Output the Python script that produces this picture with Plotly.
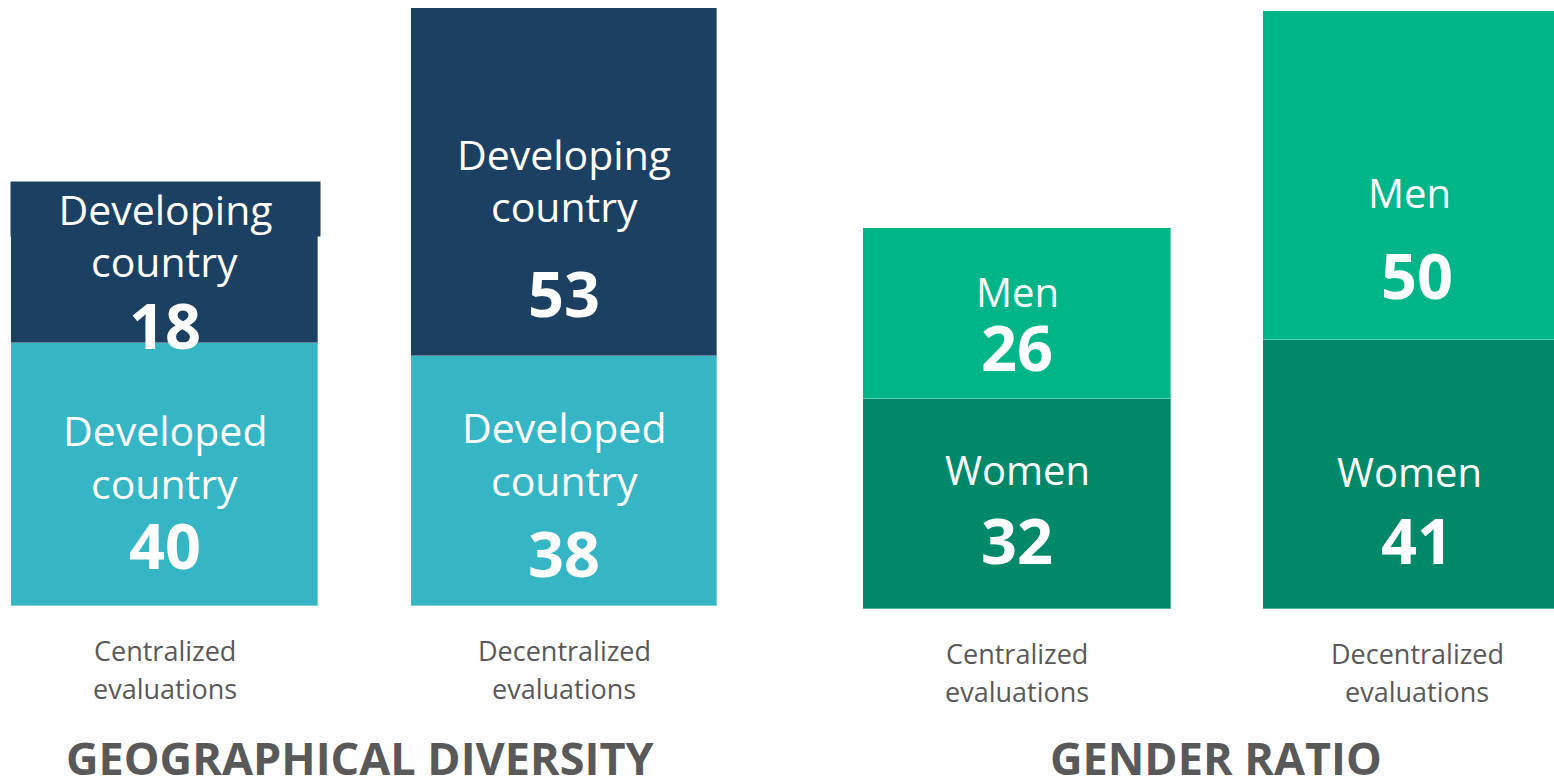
import plotly.graph_objects as go

# ---- data ----
categories = ["Centralized evaluations", "Decentralized evaluations"]
category_line1 = ["Centralized", "Decentralized"]
category_line2 = ["evaluations", "evaluations"]
developed = [40, 38]
developing = [18, 53]
women = [32, 41]
men = [26, 50]
panel_titles = ["GEOGRAPHICAL DIVERSITY", "GENDER RATIO"]

NAVY = "#1C4062"
TEAL = "#36B5C5"
GREEN = "#00B587"
DGREEN = "#008868"
GRAY = "#595959"
FONT = "Open Sans"

W, H = 1554, 779


def py(px):
    """pixel (from top) -> paper y"""
    return 1 - px / H


def pxr(px):
    """pixel (from left) -> paper x"""
    return px / W


fig = go.Figure()
line = dict(width=1, color="rgba(255,255,255,0.35)")
fig.add_trace(go.Bar(x=categories, y=developed, marker=dict(color=TEAL, line=line),
                     width=0.768, xaxis="x", yaxis="y", name="Developed country"))
fig.add_trace(go.Bar(x=categories, y=developing, marker=dict(color=NAVY, line=line),
                     width=0.768, xaxis="x", yaxis="y", name="Developing country"))
fig.add_trace(go.Bar(x=categories, y=women, marker=dict(color=DGREEN, line=line),
                     width=0.768, xaxis="x2", yaxis="y2", name="Women"))
fig.add_trace(go.Bar(x=categories, y=men, marker=dict(color=GREEN, line=line),
                     width=0.768, xaxis="x2", yaxis="y2", name="Men"))

ann = []


def label(text, xref, cat, ypx, size, bold=False, color="white", **kw):
    t = f"<b>{text}</b>" if bold else text
    ann.append(dict(text=t, xref=xref, x=cat, yref="paper", y=py(ypx),
                    xanchor="center", yanchor="middle", showarrow=False,
                    font=dict(family=FONT, size=size, color=color), **kw))


LS = 41   # developing / developed label size
GS = 40   # men / women label size
NS = 63   # number size

# Left panel, centralized: developing label box (extends above bar)
ann.append(dict(text="Developing", xref="x", x=categories[0], xshift=1, yref="paper", y=py(209),
                xanchor="center", yanchor="middle", showarrow=False, width=309, height=54,
                bgcolor=NAVY, borderpad=0,
                font=dict(family=FONT, size=LS, color="white")))
label("country", "x", categories[0], 261, LS)
label(str(developing[0]), "x", categories[0], 324, NS, bold=True)
label("Developed", "x", categories[0], 430, LS)
label("country", "x", categories[0], 483, LS)
label(str(developed[0]), "x", categories[0], 544, NS, bold=True)

# Left panel, decentralized
label("Developing", "x", categories[1], 154, LS)
label("country", "x", categories[1], 206, LS)
label(str(developing[1]), "x", categories[1], 292, NS, bold=True)
label("Developed", "x", categories[1], 427, LS)
label("country", "x", categories[1], 480, LS)
label(str(developed[1]), "x", categories[1], 552, NS, bold=True)

# Right panel, centralized
label("Men", "x2", categories[0], 291, GS)
label(str(men[0]), "x2", categories[0], 346, NS, bold=True)
label("Women", "x2", categories[0], 469, GS)
label(str(women[0]), "x2", categories[0], 539, NS, bold=True)

# Right panel, decentralized
label("Men", "x2", categories[1], 192, GS, xshift=-8)
label(str(men[1]), "x2", categories[1], 274, NS, bold=True)
label("Women", "x2", categories[1], 471, GS, xshift=-8)
label(str(women[1]), "x2", categories[1], 539, NS, bold=True)

# category labels under bars
for i, c in enumerate(categories):
    label(category_line1[i], "x", c, 650, 27, color=GRAY)
    label(category_line2[i], "x", c, 688, 27, color=GRAY)
    label(category_line1[i], "x2", c, 653, 27, color=GRAY)
    label(category_line2[i], "x2", c, 691, 27, color=GRAY)

# panel titles
for title, cx in zip(panel_titles, [359.5, 1216]):
    ann.append(dict(text=f"<b>{title}</b>", xref="paper", x=pxr(cx), yref="paper", y=py(757),
                    xanchor="center", yanchor="middle", showarrow=False,
                    font=dict(family=FONT, size=45, color=GRAY)))

axis_common = dict(showgrid=False, zeroline=False, showticklabels=False, showline=False, ticks="")
fig.update_layout(
    width=W, height=H,
    margin=dict(l=0, r=0, t=0, b=0),
    paper_bgcolor="white", plot_bgcolor="white",
    barmode="stack", bargap=0, showlegend=False,
    xaxis=dict(domain=[0, 0.5], type="category", categoryorder="array", categoryarray=categories,
               range=[-0.4118, 1.533], **axis_common),
    yaxis=dict(domain=[0, 1], range=[-26.33, 92.24], anchor="x", **axis_common),
    xaxis2=dict(domain=[0.5, 1], type="category", categoryorder="array", categoryarray=categories,
                range=[-0.6, 1.3425], anchor="y2", **axis_common),
    yaxis2=dict(domain=[0, 1], range=[-25.87, 92.69], anchor="x2", **axis_common),
    annotations=ann,
    hovermode=False,
)

fig.write_html(
    "out.html",
    config={"displayModeBar": False},
    post_script="document.body.style.margin='0';document.body.style.overflow='hidden';",
)
